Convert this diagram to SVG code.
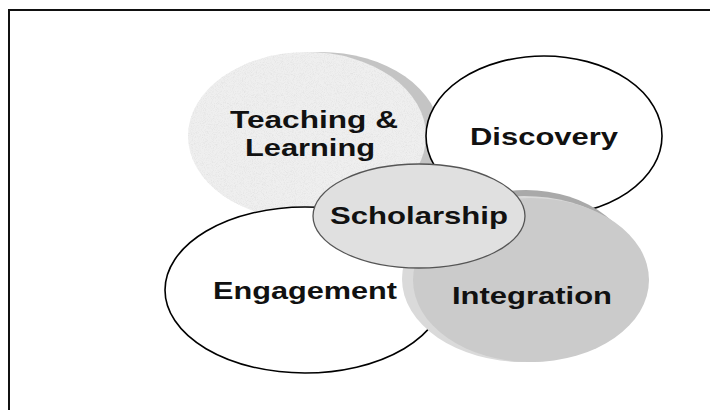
<svg xmlns="http://www.w3.org/2000/svg" width="710" height="410" viewBox="0 0 710 410">
  <defs>
    <!-- speckled stone texture for the Teaching & Learning disc -->
    <filter id="speckle" x="0" y="0" width="100%" height="100%">
      <feTurbulence type="fractalNoise" baseFrequency="1.1" numOctaves="2" seed="4" result="noise"/>
      <feColorMatrix in="noise" type="matrix"
        values="0 0 0 0 0.76
                0 0 0 0 0.76
                0 0 0 0 0.76
                2.2 0 0 0 -0.95" result="dots"/>
      <feComposite in="dots" in2="SourceGraphic" operator="in" result="clipped"/>
      <feMerge>
        <feMergeNode in="SourceGraphic"/>
        <feMergeNode in="clipped"/>
      </feMerge>
    </filter>
  </defs>
  <style>
    .label { font-family: "Liberation Sans", Arial, sans-serif; font-weight: bold; font-size: 24px; fill: #111; text-anchor: middle; }
    .outline { fill: #fff; stroke: #000; stroke-width: 1.6; }
  </style>

  <rect width="710" height="410" fill="#fff"/>
  <!-- frame -->
  <rect x="9" y="10" width="720" height="420" fill="none" stroke="#111" stroke-width="2"/>

  <g id="teaching-learning">
    <ellipse cx="320" cy="135" rx="120" ry="83" fill="#c4c4c4"/>
    <ellipse cx="307" cy="136" rx="119" ry="84" fill="#efefef" filter="url(#speckle)"/>
    <text class="label" x="314" y="128" textLength="168" lengthAdjust="spacingAndGlyphs">Teaching &amp;</text>
    <text class="label" x="310" y="156" textLength="130" lengthAdjust="spacingAndGlyphs">Learning</text>
  </g>

  <g id="discovery">
    <ellipse class="outline" cx="544" cy="136" rx="118" ry="80"/>
    <text class="label" x="544" y="145" textLength="148" lengthAdjust="spacingAndGlyphs">Discovery</text>
  </g>

  <g id="engagement">
    <ellipse class="outline" cx="305" cy="290" rx="140" ry="83"/>
    <text class="label" x="305" y="299" textLength="184" lengthAdjust="spacingAndGlyphs">Engagement</text>
  </g>

  <g id="integration">
    <ellipse cx="526" cy="276" rx="112" ry="86" fill="#a9a9a9"/>
    <ellipse cx="524" cy="279" rx="122" ry="83" fill="#dadada"/>
    <ellipse cx="531" cy="280" rx="118" ry="82" fill="#cbcbcb"/>
    <text class="label" x="532" y="304" textLength="160" lengthAdjust="spacingAndGlyphs">Integration</text>
  </g>

  <g id="scholarship">
    <ellipse cx="419" cy="216" rx="106" ry="52" fill="#e0e0e0" stroke="#555" stroke-width="1.3"/>
    <text class="label" x="419" y="224" textLength="178" lengthAdjust="spacingAndGlyphs">Scholarship</text>
  </g>

  <!-- the figure has no connectors -->
  <g id="connectors"/>
</svg>
